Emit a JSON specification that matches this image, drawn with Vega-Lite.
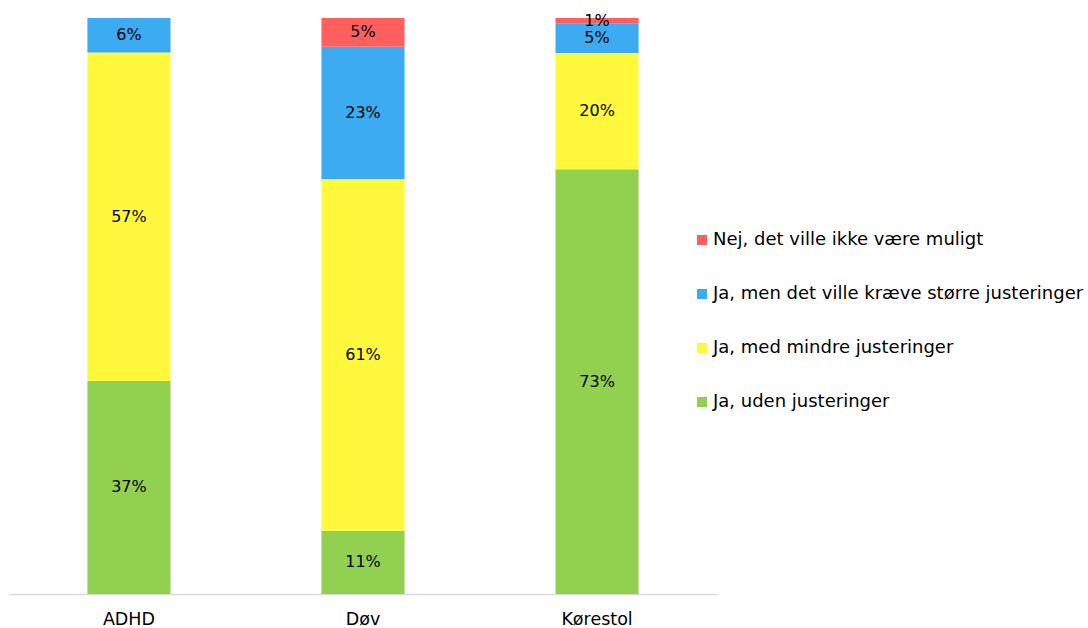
{
  "$schema": "https://vega.github.io/schema/vega-lite/v6.json",
  "width": 708,
  "height": 576,
  "autosize": {"type": "none"},
  "padding": {"left": 9, "top": 18, "right": 371, "bottom": 34},
  "background": "white",
  "config": {"view": {"stroke": null}, "font": "DejaVu Sans"},
  "data": {"values": [
    {"gruppe": "ADHD", "svar": "Ja, uden justeringer", "o": 1, "v": 37},
    {"gruppe": "ADHD", "svar": "Ja, med mindre justeringer", "o": 2, "v": 57},
    {"gruppe": "ADHD", "svar": "Ja, men det ville kræve større justeringer", "o": 3, "v": 6},
    {"gruppe": "Døv", "svar": "Ja, uden justeringer", "o": 1, "v": 11},
    {"gruppe": "Døv", "svar": "Ja, med mindre justeringer", "o": 2, "v": 61},
    {"gruppe": "Døv", "svar": "Ja, men det ville kræve større justeringer", "o": 3, "v": 23},
    {"gruppe": "Døv", "svar": "Nej, det ville ikke være muligt", "o": 4, "v": 5},
    {"gruppe": "Kørestol", "svar": "Ja, uden justeringer", "o": 1, "v": 73},
    {"gruppe": "Kørestol", "svar": "Ja, med mindre justeringer", "o": 2, "v": 20},
    {"gruppe": "Kørestol", "svar": "Ja, men det ville kræve større justeringer", "o": 3, "v": 5},
    {"gruppe": "Kørestol", "svar": "Nej, det ville ikke være muligt", "o": 4, "v": 1}
  ]},
  "transform": [
    {"stack": "v", "groupby": ["gruppe"], "sort": [{"field": "o", "order": "ascending"}], "offset": "normalize", "as": ["y0", "y1"]},
    {"calculate": "(datum.y0 + datum.y1) / 2", "as": "ym"},
    {"calculate": "datum.v + '%'", "as": "lab"}
  ],
  "encoding": {
    "x": {"field": "gruppe", "type": "nominal", "sort": null,
      "scale": {"paddingInner": 0.645, "paddingOuter": 0.335},
      "axis": {"title": null, "labelAngle": 0, "labelFontSize": 17.5, "labelColor": "#000000", "domainColor": "#d9d9d9", "domainWidth": 1.5, "ticks": false, "labelPadding": 16}}
  },
  "layer": [
    {"mark": {"type": "bar"},
     "encoding": {
       "y": {"field": "y0", "type": "quantitative", "scale": {"domain": [0, 1], "nice": false}, "axis": null},
       "y2": {"field": "y1"},
       "color": {"field": "svar", "type": "nominal",
         "scale": {"domain": ["Nej, det ville ikke være muligt", "Ja, men det ville kræve større justeringer", "Ja, med mindre justeringer", "Ja, uden justeringer"],
                   "range": ["#ff605e", "#3cabf2", "#fff83c", "#92d050"]},
         "legend": {"title": null, "orient": "none", "legendX": 684, "legendY": 213, "symbolType": "square", "symbolSize": 100, "labelFontSize": 18, "labelColor": "#000000", "labelLimit": 0, "rowPadding": 36, "labelOffset": 2, "symbolStrokeWidth": 0}}
     }},
    {"mark": {"type": "text", "fontSize": 16, "color": "#000000", "baseline": "middle"},
     "encoding": {
       "y": {"field": "ym", "type": "quantitative"},
       "text": {"field": "lab", "type": "nominal"}}}
  ]
}
